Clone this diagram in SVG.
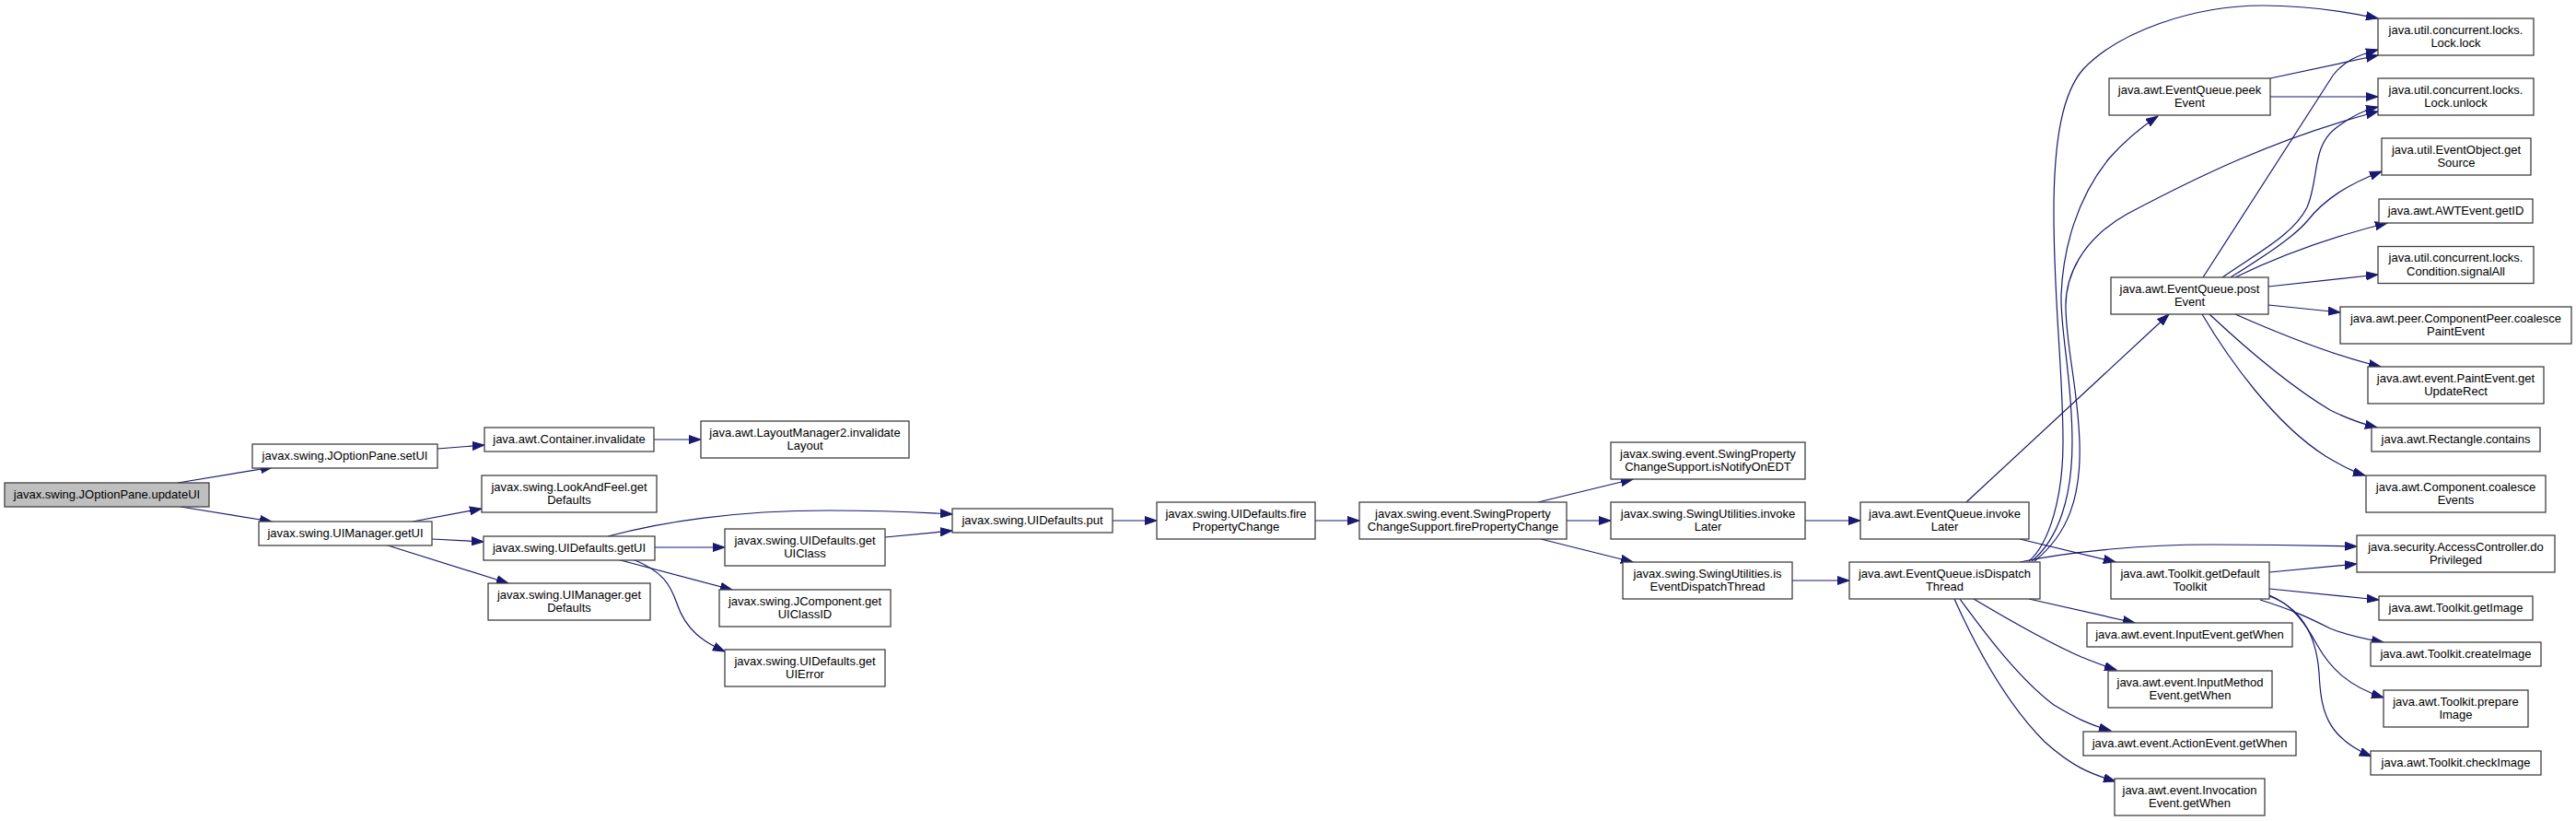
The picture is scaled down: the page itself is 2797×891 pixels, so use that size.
<svg xmlns="http://www.w3.org/2000/svg" width="2797" height="891" viewBox="0 0 2797 891">
<style>
.node rect{fill:#ffffff;stroke:#404040;stroke-width:1.3}
.root rect{fill:#bfbfbf}
.node text{font-family:"Liberation Sans",Arial,sans-serif;font-size:13px;text-anchor:middle;fill:#000000}
.edges path{fill:none;stroke:#191970;stroke-width:1.2;marker-end:url(#a)}
</style>
<defs>
<marker id="a" markerWidth="14" markerHeight="10" refX="13" refY="5" orient="auto" markerUnits="userSpaceOnUse">
<path d="M0,0.5 L13,5 L0,9.5 Z" fill="#191970" stroke="#191970" stroke-width="1"/>
</marker>
</defs>
<rect x="0" y="0" width="2797" height="891" fill="#ffffff"/>
<g id="edges" class="edges">
<path d="M193,524 L296,507"/>
<path d="M196,550 L295,566"/>
<path d="M475,487 L526,483"/>
<path d="M710,477 L761,477"/>
<path d="M448,566 L523,552"/>
<path d="M469,585 L525,588"/>
<path d="M418,591 L552,633"/>
<path d="M660,582 C720,566 800,554 900,554 C960,554 1000,556 1034,558"/>
<path d="M711,594 L787,594"/>
<path d="M961,583 L1034,576"/>
<path d="M670,607 L795,640"/>
<path d="M687,607 C720,620 728,635 735,655 C745,685 765,697 787,707"/>
<path d="M1208,565 L1256,565"/>
<path d="M1428,565 L1476,565"/>
<path d="M1670,545 L1773,520"/>
<path d="M1701,565 L1749,565"/>
<path d="M1673,585 L1773,610"/>
<path d="M1960,565 L2020,565"/>
<path d="M1946,630 L2008,630"/>
<path d="M2135,545 L2355,341"/>
<path d="M2193,585 L2297,610"/>
<path d="M2193,610 C2250,598 2330,591 2400,591 C2470,591 2520,592 2559,593"/>
<path d="M2203,609 C2225,590 2240,540 2240,480 C2240,400 2230,330 2230,230 C2230,150 2240,100 2262,75 C2300,35 2380,6 2457,6 C2500,6 2545,12 2582,20"/>
<path d="M2206,609 C2235,585 2250,540 2250,480 C2250,410 2237,360 2238,320 C2240,270 2255,215 2290,172 C2305,155 2325,138 2343,126"/>
<path d="M2209,609 C2245,580 2260,540 2258,480 C2256,420 2244,380 2243,335 C2242,300 2260,260 2310,232 C2380,195 2470,150 2582,121"/>
<path d="M2203,650 L2318,676"/>
<path d="M2143,650 C2180,672 2230,700 2260,713 C2275,719 2285,723 2298,727"/>
<path d="M2128,650 C2150,680 2190,735 2230,765 C2255,780 2270,787 2292,793"/>
<path d="M2122,650 C2140,690 2175,760 2220,805 C2250,832 2270,840 2297,848"/>
<path d="M2464,621 L2559,612"/>
<path d="M2464,639 L2583,651"/>
<path d="M2454,651 C2490,662 2510,672 2530,682 C2550,690 2570,694 2588,697"/>
<path d="M2464,646 C2490,656 2505,680 2516,700 C2530,725 2550,745 2588,757"/>
<path d="M2464,647 C2500,660 2515,690 2518,730 C2520,770 2525,800 2575,821"/>
<path d="M2392,301 L2533,82 C2545,66 2560,60 2582,54"/>
<path d="M2465,85 L2582,60"/>
<path d="M2465,105 L2582,105"/>
<path d="M2413,301 C2450,275 2490,255 2505,225 C2518,195 2510,160 2535,140 C2550,128 2565,120 2582,116"/>
<path d="M2422,301 C2455,280 2490,258 2505,240 C2525,215 2550,200 2586,186"/>
<path d="M2427,301 C2470,280 2520,260 2592,242"/>
<path d="M2463,311 L2582,298"/>
<path d="M2463,331 L2541,339"/>
<path d="M2427,341 C2470,360 2530,385 2585,398"/>
<path d="M2399,341 C2430,370 2480,415 2530,445 C2550,455 2565,460 2581,464"/>
<path d="M2391,341 C2420,390 2470,460 2525,495 C2545,507 2555,512 2568,516"/>
</g>
<g id="n0" class="node root"><rect x="5" y="524" width="222" height="26"/><text x="116" y="540.5">javax.swing.JOptionPane.updateUI</text></g>
<g id="n1" class="node"><rect x="274" y="482" width="201" height="26"/><text x="374.5" y="498.5">javax.swing.JOptionPane.setUI</text></g>
<g id="n2" class="node"><rect x="281" y="566" width="188" height="26"/><text x="375" y="582.5">javax.swing.UIManager.getUI</text></g>
<g id="n3" class="node"><rect x="526" y="464" width="184" height="26"/><text x="618" y="480.5">java.awt.Container.invalidate</text></g>
<g id="n4" class="node"><rect x="761" y="457" width="226" height="40"/><text x="874" y="473.5">java.awt.LayoutManager2.invalidate</text><text x="874" y="488">Layout</text></g>
<g id="n5" class="node"><rect x="523" y="516" width="190" height="40"/><text x="618" y="532.5">javax.swing.LookAndFeel.get</text><text x="618" y="547">Defaults</text></g>
<g id="n6" class="node"><rect x="525" y="582" width="186" height="26"/><text x="618" y="598.5">javax.swing.UIDefaults.getUI</text></g>
<g id="n7" class="node"><rect x="530" y="633" width="176" height="40"/><text x="618" y="649.5">javax.swing.UIManager.get</text><text x="618" y="664">Defaults</text></g>
<g id="n8" class="node"><rect x="787" y="574" width="174" height="40"/><text x="874" y="590.5">javax.swing.UIDefaults.get</text><text x="874" y="605">UIClass</text></g>
<g id="n9" class="node"><rect x="781" y="640" width="186" height="40"/><text x="874" y="656.5">javax.swing.JComponent.get</text><text x="874" y="671">UIClassID</text></g>
<g id="n10" class="node"><rect x="787" y="705" width="174" height="40"/><text x="874" y="721.5">javax.swing.UIDefaults.get</text><text x="874" y="736">UIError</text></g>
<g id="n11" class="node"><rect x="1034" y="552" width="174" height="26"/><text x="1121" y="568.5">javax.swing.UIDefaults.put</text></g>
<g id="n12" class="node"><rect x="1256" y="545" width="172" height="40"/><text x="1342" y="561.5">javax.swing.UIDefaults.fire</text><text x="1342" y="576">PropertyChange</text></g>
<g id="n13" class="node"><rect x="1476" y="545" width="225" height="40"/><text x="1588.5" y="561.5">javax.swing.event.SwingProperty</text><text x="1588.5" y="576">ChangeSupport.firePropertyChange</text></g>
<g id="n14" class="node"><rect x="1749" y="480" width="211" height="40"/><text x="1854.5" y="496.5">javax.swing.event.SwingProperty</text><text x="1854.5" y="511">ChangeSupport.isNotifyOnEDT</text></g>
<g id="n15" class="node"><rect x="1749" y="545" width="211" height="40"/><text x="1854.5" y="561.5">javax.swing.SwingUtilities.invoke</text><text x="1854.5" y="576">Later</text></g>
<g id="n16" class="node"><rect x="1762" y="610" width="184" height="40"/><text x="1854" y="626.5">javax.swing.SwingUtilities.is</text><text x="1854" y="641">EventDispatchThread</text></g>
<g id="n17" class="node"><rect x="2020" y="545" width="183" height="40"/><text x="2111.5" y="561.5">java.awt.EventQueue.invoke</text><text x="2111.5" y="576">Later</text></g>
<g id="n18" class="node"><rect x="2008" y="610" width="207" height="40"/><text x="2111.5" y="626.5">java.awt.EventQueue.isDispatch</text><text x="2111.5" y="641">Thread</text></g>
<g id="n19" class="node"><rect x="2290" y="85" width="175" height="40"/><text x="2377.5" y="101.5">java.awt.EventQueue.peek</text><text x="2377.5" y="116">Event</text></g>
<g id="n20" class="node"><rect x="2292" y="301" width="171" height="40"/><text x="2377.5" y="317.5">java.awt.EventQueue.post</text><text x="2377.5" y="332">Event</text></g>
<g id="n21" class="node"><rect x="2292" y="610" width="172" height="40"/><text x="2378" y="626.5">java.awt.Toolkit.getDefault</text><text x="2378" y="641">Toolkit</text></g>
<g id="n22" class="node"><rect x="2266" y="676" width="223" height="26"/><text x="2377.5" y="692.5">java.awt.event.InputEvent.getWhen</text></g>
<g id="n23" class="node"><rect x="2289" y="728" width="178" height="40"/><text x="2378" y="744.5">java.awt.event.InputMethod</text><text x="2378" y="759">Event.getWhen</text></g>
<g id="n24" class="node"><rect x="2262" y="794" width="231" height="26"/><text x="2377.5" y="810.5">java.awt.event.ActionEvent.getWhen</text></g>
<g id="n25" class="node"><rect x="2296" y="845" width="163" height="40"/><text x="2377.5" y="861.5">java.awt.event.Invocation</text><text x="2377.5" y="876">Event.getWhen</text></g>
<g id="n26" class="node"><rect x="2582" y="20" width="169" height="40"/><text x="2666.5" y="36.5">java.util.concurrent.locks.</text><text x="2666.5" y="51">Lock.lock</text></g>
<g id="n27" class="node"><rect x="2582" y="85" width="169" height="40"/><text x="2666.5" y="101.5">java.util.concurrent.locks.</text><text x="2666.5" y="116">Lock.unlock</text></g>
<g id="n28" class="node"><rect x="2586" y="150" width="162" height="40"/><text x="2667" y="166.5">java.util.EventObject.get</text><text x="2667" y="181">Source</text></g>
<g id="n29" class="node"><rect x="2583" y="216" width="167" height="26"/><text x="2666.5" y="232.5">java.awt.AWTEvent.getID</text></g>
<g id="n30" class="node"><rect x="2582" y="267.5" width="169" height="40"/><text x="2666.5" y="284">java.util.concurrent.locks.</text><text x="2666.5" y="298.5">Condition.signalAll</text></g>
<g id="n31" class="node"><rect x="2541" y="333" width="251" height="40"/><text x="2666.5" y="349.5">java.awt.peer.ComponentPeer.coalesce</text><text x="2666.5" y="364">PaintEvent</text></g>
<g id="n32" class="node"><rect x="2571" y="398" width="191" height="40"/><text x="2666.5" y="414.5">java.awt.event.PaintEvent.get</text><text x="2666.5" y="429">UpdateRect</text></g>
<g id="n33" class="node"><rect x="2575" y="464" width="183" height="26"/><text x="2666.5" y="480.5">java.awt.Rectangle.contains</text></g>
<g id="n34" class="node"><rect x="2569" y="516" width="195" height="40"/><text x="2666.5" y="532.5">java.awt.Component.coalesce</text><text x="2666.5" y="547">Events</text></g>
<g id="n35" class="node"><rect x="2559" y="581" width="215" height="40"/><text x="2666.5" y="597.5">java.security.AccessController.do</text><text x="2666.5" y="612">Privileged</text></g>
<g id="n36" class="node"><rect x="2583" y="647" width="167" height="26"/><text x="2666.5" y="663.5">java.awt.Toolkit.getImage</text></g>
<g id="n37" class="node"><rect x="2574" y="697" width="185" height="26"/><text x="2666.5" y="713.5">java.awt.Toolkit.createImage</text></g>
<g id="n38" class="node"><rect x="2588" y="749" width="157" height="40"/><text x="2666.5" y="765.5">java.awt.Toolkit.prepare</text><text x="2666.5" y="780">Image</text></g>
<g id="n39" class="node"><rect x="2574" y="815" width="185" height="26"/><text x="2666.5" y="831.5">java.awt.Toolkit.checkImage</text></g>
</svg>
